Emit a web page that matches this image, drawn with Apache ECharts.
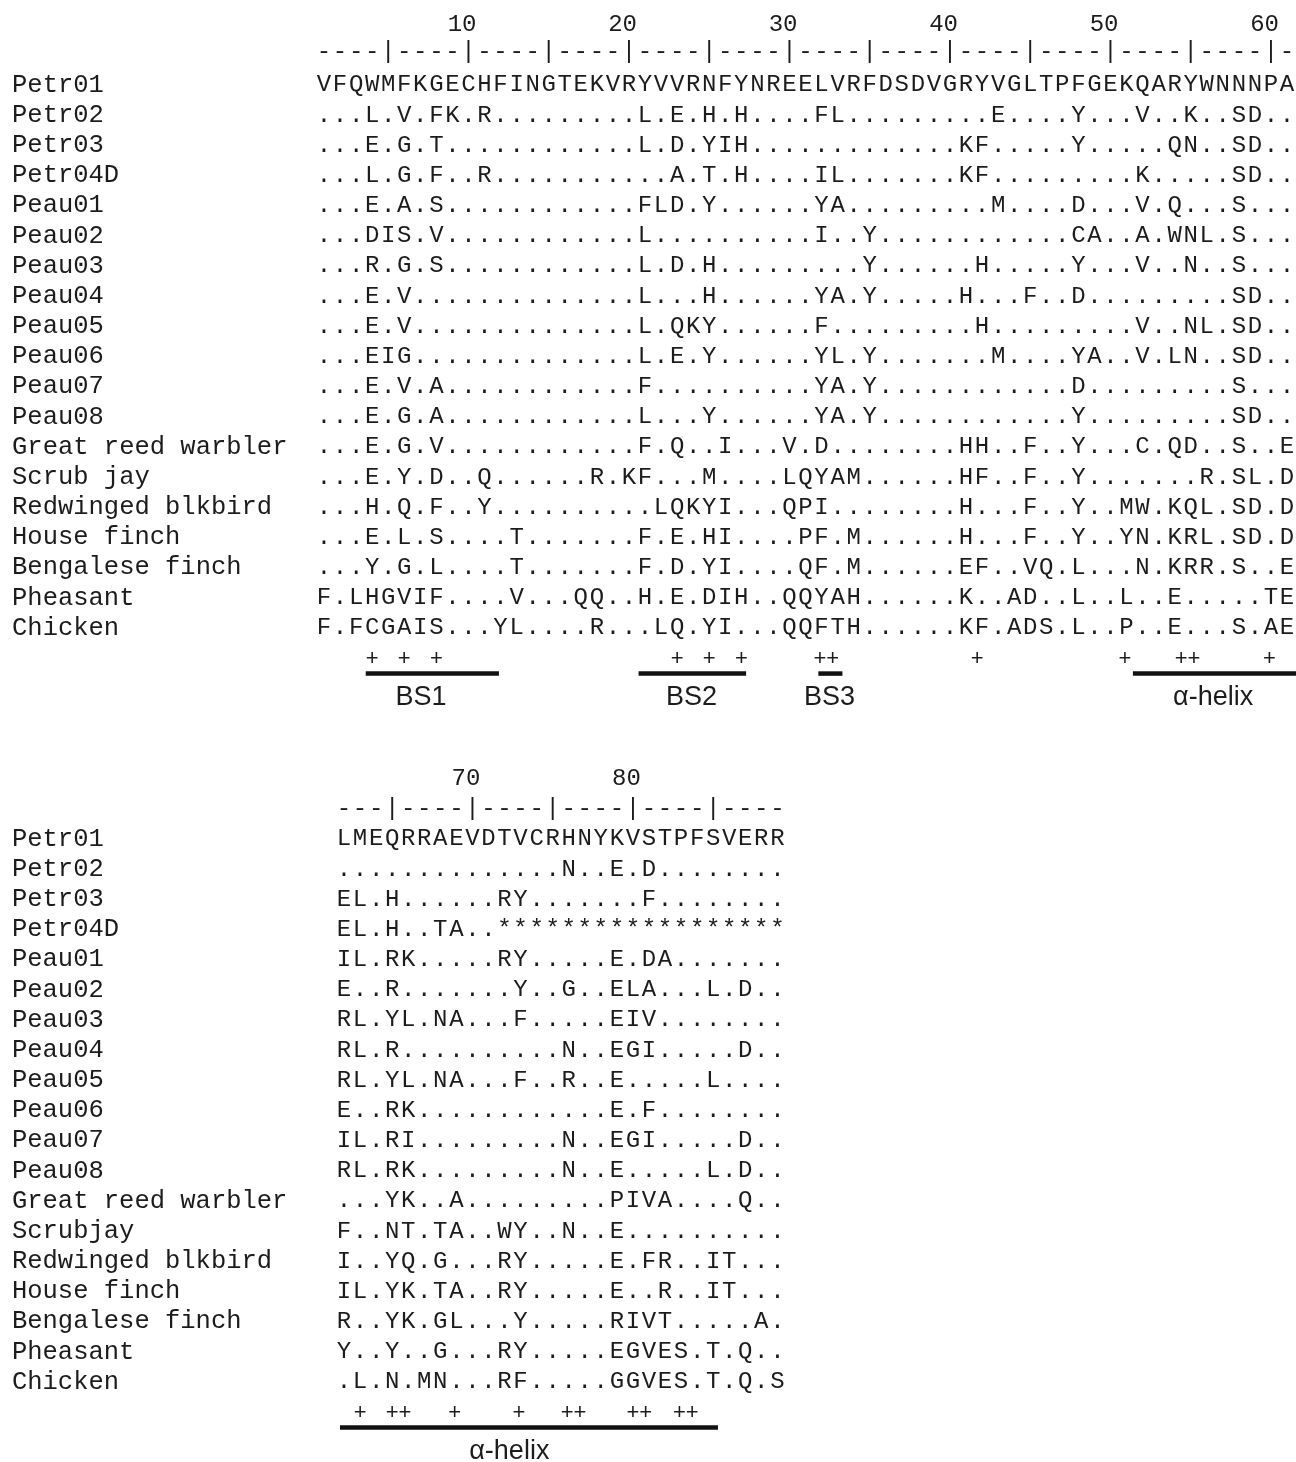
<!DOCTYPE html>
<html><head><meta charset="utf-8">
<script src="https://cdn.jsdelivr.net/npm/echarts@6/dist/echarts.min.js"></script>
<style>html,body{margin:0;padding:0;background:#fff}#c{width:1296px;height:1462px}</style>
</head><body><div id="c"></div>
<script>
// ---------- data ----------
const names1 = ['Petr01','Petr02','Petr03','Petr04D','Peau01','Peau02','Peau03','Peau04','Peau05','Peau06','Peau07','Peau08','Great reed warbler','Scrub jay','Redwinged blkbird','House finch','Bengalese finch','Pheasant','Chicken'];
const names2 = ['Petr01','Petr02','Petr03','Petr04D','Peau01','Peau02','Peau03','Peau04','Peau05','Peau06','Peau07','Peau08','Great reed warbler','Scrubjay','Redwinged blkbird','House finch','Bengalese finch','Pheasant','Chicken'];

const seq1 = [
 'VFQWMFKGECHFINGTEKVRYVVRNFYNREELVRFDSDVGRYVGLTPFGEKQARYWNNNPA',
 '...L.V.FK.R.........L.E.H.H....FL.........E....Y...V..K..SD..',
 '...E.G.T............L.D.YIH.............KF.....Y.....QN..SD..',
 '...L.G.F..R...........A.T.H....IL.......KF.........K.....SD..',
 '...E.A.S............FLD.Y......YA.........M....D...V.Q...S...',
 '...DIS.V............L..........I..Y............CA..A.WNL.S...',
 '...R.G.S............L.D.H.........Y......H.....Y...V..N..S...',
 '...E.V..............L...H......YA.Y.....H...F..D.........SD..',
 '...E.V..............L.QKY......F.........H.........V..NL.SD..',
 '...EIG..............L.E.Y......YL.Y.......M....YA..V.LN..SD..',
 '...E.V.A............F..........YA.Y............D.........S...',
 '...E.G.A............L...Y......YA.Y............Y.........SD..',
 '...E.G.V............F.Q..I...V.D........HH..F..Y...C.QD..S..E',
 '...E.Y.D..Q......R.KF...M....LQYAM......HF..F..Y.......R.SL.D',
 '...H.Q.F..Y..........LQKYI...QPI........H...F..Y..MW.KQL.SD.D',
 '...E.L.S....T.......F.E.HI....PF.M......H...F..Y..YN.KRL.SD.D',
 '...Y.G.L....T.......F.D.YI....QF.M......EF..VQ.L...N.KRR.S..E',
 'F.LHGVIF....V...QQ..H.E.DIH..QQYAH......K..AD..L..L..E.....TE',
 'F.FCGAIS...YL....R...LQ.YI...QQFTH......KF.ADS.L..P..E...S.AE'
];
const seq2 = [
 'LMEQRRAEVDTVCRHNYKVSTPFSVERR',
 '..............N..E.D........',
 'EL.H......RY.......F........',
 'EL.H..TA..******************',
 'IL.RK.....RY.....E.DA.......',
 'E..R.......Y..G..ELA...L.D..',
 'RL.YL.NA...F.....EIV........',
 'RL.R..........N..EGI.....D..',
 'RL.YL.NA...F..R..E.....L....',
 'E..RK............E.F........',
 'IL.RI.........N..EGI.....D..',
 'RL.RK.........N..E.....L.D..',
 '...YK..A.........PIVA....Q..',
 'F..NT.TA..WY..N..E..........',
 'I..YQ.G...RY.....E.FR..IT...',
 'IL.YK.TA..RY.....E..R..IT...',
 'R..YK.GL...Y.....RIVT.....A.',
 'Y..Y..G...RY.....EGVES.T.Q..',
 '.L.N.MN...RF.....GGVES.T.Q.S'
];
const firstCol1 = 1, firstCol2 = 62;
const ruler1 = '----|----|----|----|----|----|----|----|----|----|----|----|-';
const ruler2 = '---|----|----|----|----|----';
const tickLabels1 = ['10','20','30','40','50','60'];
const tickCols1 = [10,20,30,40,50,60];
const tickLabels2 = ['70','80'];
const tickCols2 = [70,80];

// conservation marks (+) above the structure bars, column positions
const plusCols1 = [4,6,8,23,25,27,32.3,41.7,50.9,54.8,59.9];
const plusText1 = ['+','+','+','+','+','+','++','+','+','++','+'];
const plusCols2 = [63,65.4,68.9,72.9,76.3,80.4,83.3];
const plusText2 = ['+','++','+','+','++','++','++'];

// secondary-structure bars
const barStart1 = [3.6,20.6,31.8,51.4];
const barEnd1   = [11.9,27.3,33.3,61.6];
const barLabels1 = ['BS1','BS2','BS3','α-helix'];
const barLabelCols1 = [7.05,23.9,32.5,56.4];
const barStart2 = [61.75];
const barEnd2   = [85.3];
const barLabels2 = ['α-helix'];
const barLabelCols2 = [72.3];

// ---------- layout ----------
const COL_W = 16.05, ROW_H = 30.17;
const MONO = "'Liberation Mono', 'Courier New', monospace";
const SANS = "'Liberation Sans', Arial, sans-serif";
const INK = '#1c1c1c';

const blocks = [
 {names:names1, seqs:seq1, first:firstCol1, ruler:ruler1, rulerY:-1.1, ticks:tickLabels1, tickCols:tickCols1,
  plusCols:plusCols1, plusText:plusText1, barStart:barStart1, barEnd:barEnd1, barLabels:barLabels1, barLabelCols:barLabelCols1,
  x0:324, y0:85, xmin:-18.5, xmax:61.5, ymin:-2.5, ymax:21},
 {names:names2, seqs:seq2, first:firstCol2, ruler:ruler2, rulerY:-1.0, ticks:tickLabels2, tickCols:tickCols2,
  plusCols:plusCols2, plusText:plusText2, barStart:barStart2, barEnd:barEnd2, barLabels:barLabels2, barLabelCols:barLabelCols2,
  x0:344, y0:839, xmin:41.25, xmax:89.5, ymin:-2.5, ymax:20.6}
];

const grids = [], xAxes = [], yAxes = [], series = [];

function textSeries(gi, pts, texts, font, align, dx, dy) {
  series.push({
    type:'custom', xAxisIndex:gi, yAxisIndex:gi, silent:true, animation:false,
    data: pts,
    renderItem: function(params, api){
      const p = api.coord([api.value(0), api.value(1)]);
      return {type:'text', x:p[0] + (dx||0), y:p[1] + (dy||0),
        style:{text:texts[params.dataIndex], font:font, fill:INK, align:align, verticalAlign:'middle'}};
    }
  });
}

blocks.forEach(function(b, gi){
  grids.push({left:b.x0 + (b.xmin - b.first)*COL_W, top:b.y0 + b.ymin*ROW_H,
              width:(b.xmax-b.xmin)*COL_W, height:(b.ymax-b.ymin)*ROW_H, containLabel:false});
  xAxes.push({type:'value', gridIndex:gi, min:b.xmin, max:b.xmax, show:false});
  yAxes.push({type:'value', gridIndex:gi, min:b.ymin, max:b.ymax, inverse:true, show:false});

  // residues
  const pts = [], txt = [];
  b.seqs.forEach(function(s, r){
    for (let i = 0; i < s.length; i++){ pts.push([b.first + i, r]); txt.push(s[i]); }
  });
  // ruler
  for (let i = 0; i < b.ruler.length; i++){ pts.push([b.first + i, b.rulerY]); txt.push(b.ruler[i]); }
  textSeries(gi, pts, txt, '24px ' + MONO, 'center', 0, 0);

  // tick numbers, right aligned on their column
  textSeries(gi, b.tickCols.map(c => [c, -2]), b.ticks, '24px ' + MONO, 'right', COL_W/2, 0);

  // row names
  textSeries(gi, b.names.map((n, r) => [b.xmin, r]), b.names, '25.5px ' + MONO, 'left', 1, 0);

  // plus marks
  textSeries(gi, b.plusCols.map(c => [c, 19]), b.plusText, '22px ' + SANS, 'center', 0, 1);

  // bars
  series.push({
    type:'custom', xAxisIndex:gi, yAxisIndex:gi, silent:true, animation:false,
    data: b.barStart.map((s, k) => [s, b.barEnd[k], 19.5]),
    renderItem: function(params, api){
      const a = api.coord([api.value(0), api.value(2)]);
      const e = api.coord([api.value(1), api.value(2)]);
      return {type:'rect', shape:{x:a[0], y:a[1]-2, width:e[0]-a[0], height:4.5}, style:{fill:'#111'}};
    }
  });
  // bar labels
  textSeries(gi, b.barLabelCols.map(c => [c, 20.3]), b.barLabels, '27px ' + SANS, 'center', 0, 0);
});

const chart = echarts.init(document.getElementById('c'), null, {renderer:'canvas'});
chart.setOption({backgroundColor:'#ffffff', animation:false, grid:grids, xAxis:xAxes, yAxis:yAxes, series:series});
</script>
</body></html>
